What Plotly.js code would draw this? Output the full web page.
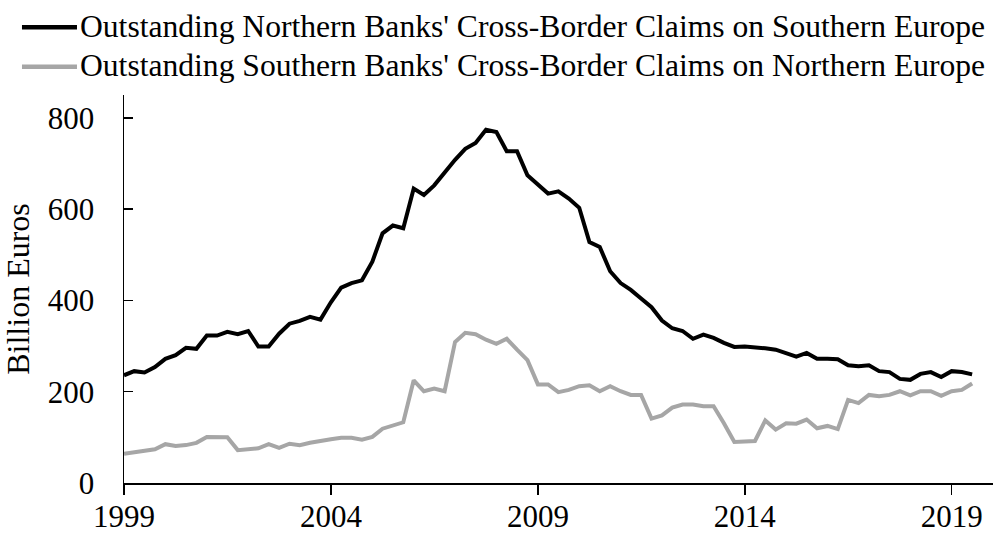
<!DOCTYPE html>
<html>
<head>
<meta charset="utf-8">
<script src="https://cdn.plot.ly/plotly-3.0.1.min.js"></script>
<style>
html,body{margin:0;padding:0;background:#fff;}
#chart{width:1000px;height:533px;}
</style>
</head>
<body>
<div id="chart"></div>
<script>
// Quarterly observations, 1999 Q1 - 2019 Q3
const quarters = [
"1999-01-01","1999-04-01","1999-07-01","1999-10-01",
"2000-01-01","2000-04-01","2000-07-01","2000-10-01",
"2001-01-01","2001-04-01","2001-07-01","2001-10-01",
"2002-01-01","2002-04-01","2002-07-01","2002-10-01",
"2003-01-01","2003-04-01","2003-07-01","2003-10-01",
"2004-01-01","2004-04-01","2004-07-01","2004-10-01",
"2005-01-01","2005-04-01","2005-07-01","2005-10-01",
"2006-01-01","2006-04-01","2006-07-01","2006-10-01",
"2007-01-01","2007-04-01","2007-07-01","2007-10-01",
"2008-01-01","2008-04-01","2008-07-01","2008-10-01",
"2009-01-01","2009-04-01","2009-07-01","2009-10-01",
"2010-01-01","2010-04-01","2010-07-01","2010-10-01",
"2011-01-01","2011-04-01","2011-07-01","2011-10-01",
"2012-01-01","2012-04-01","2012-07-01","2012-10-01",
"2013-01-01","2013-04-01","2013-07-01","2013-10-01",
"2014-01-01","2014-04-01","2014-07-01","2014-10-01",
"2015-01-01","2015-04-01","2015-07-01","2015-10-01",
"2016-01-01","2016-04-01","2016-07-01","2016-10-01",
"2017-01-01","2017-04-01","2017-07-01","2017-10-01",
"2018-01-01","2018-04-01","2018-07-01","2018-10-01",
"2019-01-01","2019-04-01","2019-07-01"
];

// Outstanding Northern Banks' claims on Southern Europe (billion euros)
const northOnSouth = [
236,245,242,254, 272,280,296,294, 323,323,331,326, 333,299,299,327,
349,355,364,358, 396,428,438,444, 485,547,564,558, 645,631,652,681,
708,732,745,774, 769,727,727,674, 655,634,639,623, 603,528,517,464,
438,423,404,385, 356,339,333,316, 325,318,307,298, 299,298,295,292,
285,277,285,272, 272,271,258,256, 258,245,243,228, 226,239,243,232,
245,243,238
];

// Outstanding Southern Banks' claims on Northern Europe (billion euros)
const southOnNorth = [
64,67,69,74, 85,81,83,88, 101,101,100,72, 75,76,85,77,
86,83,88,93, 96,99,99,95, 101,119,126,133, 225,201,207,201,
309,329,326,314, 305,316,292,269, 216,216,199,204, 212,214,201,212,
201,193,193,141, 148,165,172,172, 168,168,131,90, 91,92,137,117,
131,130,139,120, 125,118,182,175, 193,190,193,201, 192,201,201,191,
201,204,218
];

const seriesNames = [
"Outstanding Northern Banks' Cross-Border Claims on Southern Europe",
"Outstanding Southern Banks' Cross-Border Claims on Northern Europe"
];
const seriesColors = ["#000000", "#a6a6a6"];

const xTickVals = ["1999-01-01","2004-01-01","2009-01-01","2014-01-01","2019-01-01"];
const xTickText = ["1999","2004","2009","2014","2019"];
const yTickVals = [0,200,400,600,800];

const FONT = "Liberation Serif, Times New Roman, serif";

const traces = [
  {x: quarters, y: northOnSouth, name: seriesNames[0], type: "scatter", mode: "lines",
   line: {color: seriesColors[0], width: 4}, showlegend: false},
  {x: quarters, y: southOnNorth, name: seriesNames[1], type: "scatter", mode: "lines",
   line: {color: seriesColors[1], width: 4}, showlegend: false}
];

// Legend drawn as paper-positioned samples + text (layout only)
const legendY = [1.1746, 1.0730];
const shapes = [];
const annotations = [];
for (let i = 0; i < seriesNames.length; i++) {
  shapes.push({type: "line", xref: "paper", yref: "paper",
    x0: -0.1174, x1: -0.0541, y0: legendY[i], y1: legendY[i],
    line: {color: seriesColors[i], width: 4.5}});
  annotations.push({xref: "paper", yref: "paper", x: -0.0530, y: legendY[i] + 0.002,
    xanchor: "left", yanchor: "middle", showarrow: false, text: seriesNames[i],
    font: {family: FONT, size: 31.6, color: "#000"}});
}

const layout = {
  width: 1000, height: 533,
  margin: {l: 124, r: 7, t: 95, b: 50.3, pad: 0},
  paper_bgcolor: "#fff", plot_bgcolor: "#fff",
  font: {family: FONT, size: 31, color: "#000"},
  showlegend: false,
  xaxis: {
    type: "date",
    range: ["1999-01-01", "2020-01-01"],
    tickvals: xTickVals, ticktext: xTickText,
    ticks: "outside", ticklen: 10, tickwidth: 1.5, tickcolor: "#000",
    showline: true, linecolor: "#000", linewidth: 1.5,
    showgrid: false, zeroline: false,
    ticklabelstandoff: -5,
    tickfont: {family: FONT, size: 31, color: "#000"}
  },
  yaxis: {
    range: [0, 850],
    tickvals: yTickVals,
    ticks: "inside", ticklen: 9, tickwidth: 1.5, tickcolor: "#000",
    showline: true, linecolor: "#000", linewidth: 1.5,
    showgrid: false, zeroline: false,
    ticklabelstandoff: 22,
    tickfont: {family: FONT, size: 31, color: "#000"},
    title: {text: "Billion Euros", font: {family: FONT, size: 32, color: "#000"}, standoff: 12}
  },
  shapes: shapes,
  annotations: annotations
};

Plotly.newPlot("chart", traces, layout, {displayModeBar: false, staticPlot: true});
</script>
</body>
</html>
